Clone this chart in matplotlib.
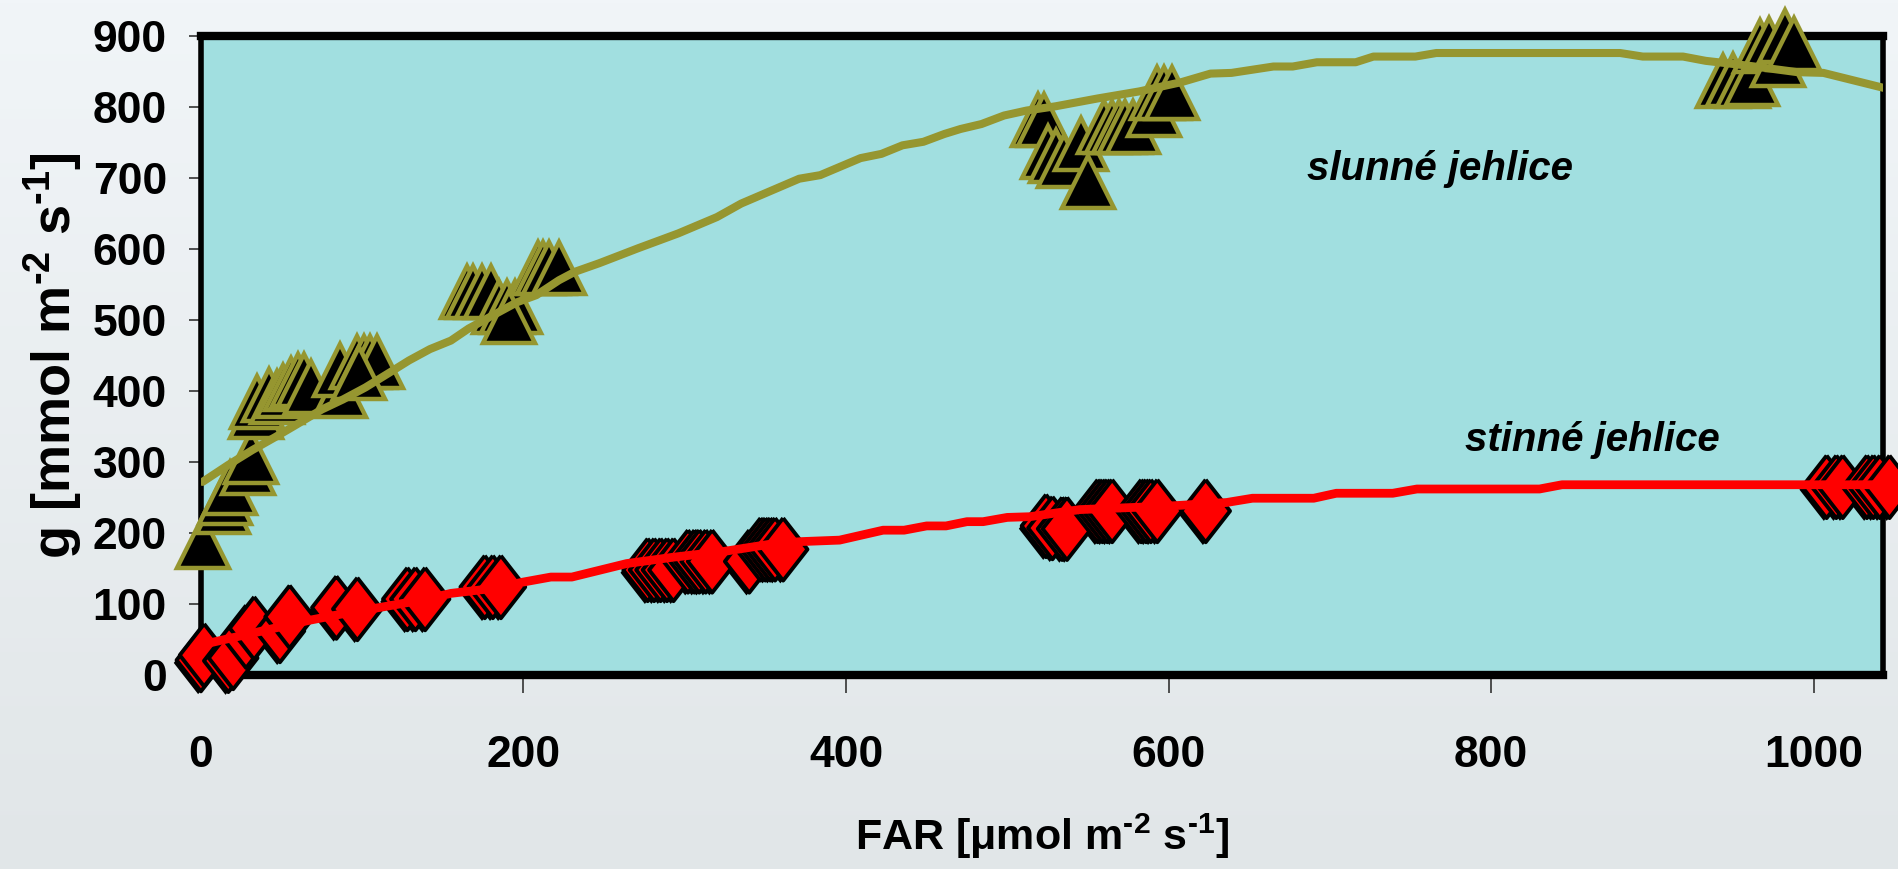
import numpy as np
import matplotlib
matplotlib.use('Agg')
import matplotlib.pyplot as plt
import matplotlib.patheffects as pe
from matplotlib.colors import LinearSegmentedColormap

# slunne jehlice (sun needles) - measured points
sun_x = [1, 14, 15, 18, 29, 31, 34, 35, 42, 47, 51, 56, 60, 64, 68,
         86, 86, 97, 101, 105, 109, 98,
         165, 169, 174, 180, 185, 190, 195, 191, 209, 212, 216, 222,
         519, 523, 525, 530, 535, 546, 550, 560, 565, 569, 573, 578, 591, 593, 597, 602,
         944, 950, 956, 962, 967, 972, 978, 982, 988]
sun_y = [188, 237, 249, 263, 291, 307, 370, 385, 395, 392, 400, 410, 415, 415, 405,
         400, 430, 441, 441, 441, 441, 425,
         540, 540, 540, 540, 518, 518, 518, 504, 573, 573, 573, 573,
         781, 781, 737, 731, 724, 748, 695, 772, 772, 772, 772, 772, 796, 820, 820, 820,
         836, 838, 836, 840, 886, 888, 866, 900, 888]

# stinne jehlice (shade needles) - measured points
shade_x = [0, 2, 17, 20, 28, 33, 49, 55, 84, 97, 128, 133, 139, 176, 181, 186,
           277, 281, 285, 289, 293, 302, 306, 309, 313, 317, 340, 347, 350, 353, 356, 361,
           524, 528, 534, 537, 556, 559, 562, 565, 583, 586, 589, 593, 623,
           1008, 1014, 1018, 1033, 1037, 1041, 1047]
shade_y = [21, 28, 20, 24, 54, 66, 62, 82, 95, 93, 107, 107, 107, 124, 124, 124,
           148, 148, 148, 148, 148, 160, 160, 160, 160, 160, 160, 177, 177, 177, 177, 177,
           210, 207, 206, 206, 231, 231, 231, 231, 231, 231, 231, 231, 231,
           265, 265, 265, 265, 265, 265, 265]

# fitted curves
sun_fit_x = [1, 17, 32, 46, 58, 75, 88, 102, 117, 129, 142, 155, 166, 183, 196, 208, 222,
             232, 247, 271, 296, 320, 335, 371, 384, 409, 422, 435, 448, 461, 471, 484,
             498, 512, 530, 556, 582, 608, 626, 639, 665, 677, 692, 716, 727, 753, 766,
             880, 894, 919, 933, 960, 990, 1006, 1045]
sun_fit_y = [272, 296, 317, 335, 351, 374, 388, 405, 426, 443, 459, 471, 488, 509, 525, 535, 556,
             568, 580, 601, 622, 645, 664, 699, 704, 728, 734, 746, 751, 762, 769, 776,
             788, 795, 801, 812, 822, 835, 847, 848, 857, 857, 863, 863, 871, 871, 876,
             876, 871, 871, 865, 858, 849, 848, 826]

shade_fit_x = [2, 5, 36, 67, 92, 113, 138, 155, 181, 200, 217, 230, 264, 293, 324, 355, 373,
               396, 423, 436, 450, 462, 475, 485, 500, 514, 545, 600, 636, 652, 690, 704,
               739, 754, 830, 844, 1045]
shade_fit_y = [42, 45, 61, 77, 88, 96, 106, 115, 122, 131, 138, 138, 157, 166, 174, 185, 188,
               190, 204, 204, 210, 210, 216, 216, 222, 223, 233, 238, 243, 249, 249, 256,
               256, 262, 262, 268, 268]

xticks = [0, 200, 400, 600, 800, 1000]
yticks = [0, 100, 200, 300, 400, 500, 600, 700, 800, 900]

plt.rcParams['font.family'] = ['Liberation Sans', 'DejaVu Sans']
plt.rcParams['font.weight'] = 'bold'
plt.rcParams['mathtext.default'] = 'regular'

fig = plt.figure(figsize=(18.99, 8.69), dpi=100)

# soft background
bg = fig.add_axes([0, 0, 1, 1], zorder=-10)
cmap = LinearSegmentedColormap.from_list('bg', ['#f1f5f8', '#e1e6e8'])
bg.imshow(np.linspace(0, 1, 256).reshape(-1, 1), aspect='auto', cmap=cmap, extent=[0, 1, 0, 1])
bg.axis('off')

ax = fig.add_axes([0.1058, 0.2232, 0.8858, 0.7354])
ax.set_facecolor('#a1dfe0')

olive = '#969630'
diamond = [(0, 1), (0.78, 0), (0, -1), (-0.78, 0), (0, 1)]

ax.plot(sun_x, sun_y, ls='none', marker='^', ms=37, mfc='black', mec=olive, mew=3.2,
        clip_on=False, zorder=3)
ax.plot(shade_x, shade_y, ls='none', marker=diamond, ms=45, mfc='red', mec='black', mew=2.8,
        clip_on=False, zorder=3,
        path_effects=[pe.SimplePatchShadow(offset=(-2, -2), shadow_rgbFace='black', alpha=1.0),
                      pe.Normal()])

ax.plot(sun_fit_x, sun_fit_y, color=olive, lw=5.8, zorder=4, solid_capstyle='round')
ax.plot(shade_fit_x, shade_fit_y, color='red', lw=6.3, zorder=4, solid_capstyle='round')

ax.set_xlim(0, 1043)
ax.set_ylim(0, 900)
ax.set_xticks(xticks)
ax.set_yticks(yticks)

for s in ['left', 'right']:
    ax.spines[s].set_linewidth(4)
for s in ['top', 'bottom']:
    ax.spines[s].set_linewidth(6)

ax.tick_params(axis='x', direction='out', length=13, width=1.2, color='#333333',
               pad=30, labelsize=32)
ax.tick_params(axis='y', direction='out', length=8.5, width=1.2, color='#333333',
               pad=16, labelsize=32)
for lbl in ax.get_xticklabels() + ax.get_yticklabels():
    lbl.set_fontweight('bold')

ax.text(0.5, -0.252, 'FAR [μmol m$^{‐2}$ s$^{‐1}$]', transform=ax.transAxes,
        ha='center', va='center', fontsize=31, fontweight='bold')
ax.text(-0.088, 0.5, 'g [mmol m$^{‐2}$ s$^{‐1}$]', transform=ax.transAxes, rotation=90,
        ha='center', va='center', fontsize=39, fontweight='bold')

ax.text(768, 697, 'slunné jehlice', ha='center', va='baseline', fontsize=29,
        fontweight='bold', fontstyle='italic')
ax.text(863, 315, 'stinné jehlice', ha='center', va='baseline', fontsize=29,
        fontweight='bold', fontstyle='italic')

fig.savefig('out.png', dpi=100)
